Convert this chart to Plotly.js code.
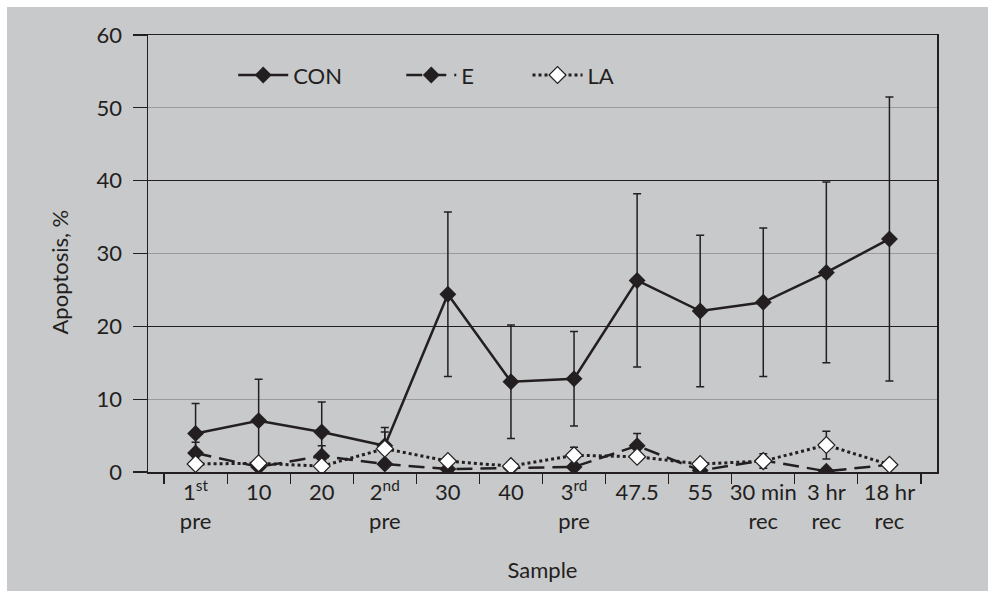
<!DOCTYPE html>
<html>
<head>
<meta charset="utf-8">
<script src="https://cdn.plot.ly/plotly-3.0.1.min.js"></script>
<style>
  html, body { margin: 0; padding: 0; background: #ffffff; }
  #chart { position: absolute; left: 7px; top: 7px; width: 981px; height: 584px; }
</style>
</head>
<body>
<div id="chart"></div>
<script>
const categories = ['1<sup>st</sup><br>pre', '10', '20', '2<sup>nd</sup><br>pre', '30', '40',
  '3<sup>rd</sup><br>pre', '47.5', '55', '30 min<br>rec', '3 hr<br>rec', '18 hr<br>rec'];
const conValues = [5.3, 7.05, 5.5, 3.6, 24.4, 12.4, 12.8, 26.3, 22.1, 23.3, 27.4, 32.0];
const conErr    = [4.1, 5.7, 4.1, 2.5, 11.3, 7.8, 6.5, 11.9, 10.4, 10.2, 12.4, 19.5];
const eValues   = [2.6, 0.7, 2.2, 1.1, 0.4, 0.6, 0.7, 3.6, 0.2, 1.6, 0.1, 1.0];
const eErr      = [1.5, 0, 1.4, 0, 0, 0, 0, 1.7, 0, 0, 0, 0];
const laValues  = [1.1, 1.2, 0.8, 3.2, 1.5, 0.8, 2.3, 2.1, 1.1, 1.5, 3.7, 1.0];
const laErr     = [0, 0, 0, 2.3, 0, 0, 1.1, 0, 0, 1.0, 1.9, 0];
const seriesNames = ['CON', 'E', 'LA'];
const xTitle = 'Sample';
const yTitle = 'Apoptosis, %';

const ink = '#231f20';
const fontFam = 'Lato, "Open Sans", sans-serif';
const fs = 22;

function errBar(arr) {
  return { type: 'data', array: arr, visible: true, color: ink, thickness: 1.5, width: 4 };
}

const traces = [
  {
    x: categories, y: conValues, name: seriesNames[0], type: 'scatter', mode: 'lines+markers',
    line: { color: ink, width: 2.5 },
    marker: { symbol: 'diamond', size: 13, color: ink },
    error_y: errBar(conErr), legend: 'legend'
  },
  {
    x: categories, y: eValues, name: seriesNames[1], type: 'scatter', mode: 'lines+markers',
    line: { color: ink, width: 2.5, dash: '16px,8px' },
    marker: { symbol: 'diamond', size: 13, color: ink },
    error_y: errBar(eErr), legend: 'legend2'
  },
  {
    x: categories, y: laValues, name: seriesNames[2], type: 'scatter', mode: 'lines+markers',
    line: { color: ink, width: 3, dash: 'dot' },
    marker: { symbol: 'diamond', size: 13, color: '#ffffff', line: { color: ink, width: 1.2 } },
    error_y: errBar(laErr), legend: 'legend3'
  },
  {
    x: [], y: [], yaxis: 'y2', showlegend: false, hoverinfo: 'skip', type: 'scatter'
  }
];

function legendAt(x) {
  return {
    orientation: 'h', x: x, xanchor: 'left', y: 0.908, yanchor: 'middle',
    bgcolor: 'rgba(0,0,0,0)', borderwidth: 0, itemwidth: 50,
    font: { family: fontFam, size: fs, color: ink }
  };
}

const layout = {
  width: 981, height: 584,
  paper_bgcolor: '#c8c9cb', plot_bgcolor: '#c8c9cb',
  margin: { l: 141, r: 51, t: 28, b: 119 },
  font: { family: fontFam, size: fs, color: ink },
  showlegend: true,
  legend: legendAt(0.108),
  legend2: legendAt(0.321),
  legend3: legendAt(0.481),
  xaxis: {
    type: 'category', tickson: 'boundaries', ticks: 'outside', ticklen: 10, tickcolor: ink, tickwidth: 1.2,
    tickangle: 0,
    showline: true, mirror: true, linecolor: ink, linewidth: 1.5,
    showgrid: false, tickfont: { family: fontFam, size: fs, color: ink },
    title: { text: xTitle, standoff: 30, font: { family: fontFam, size: fs, color: ink } },
    fixedrange: true
  },
  yaxis: {
    range: [0, 60], dtick: 10, tick0: 0, ticks: 'outside', ticklen: 14, tickcolor: ink, tickwidth: 1.2,
    ticklabelstandoff: 6,
    showline: true, mirror: true, linecolor: ink, linewidth: 1.5,
    showgrid: true, gridcolor: '#9b9b9d', gridwidth: 1.2, zeroline: false,
    tickfont: { family: fontFam, size: fs, color: ink },
    fixedrange: true
  },
  yaxis2: {
    overlaying: 'y', anchor: 'x', range: [0, 60], dtick: 20, tick0: 0,
    showgrid: true, gridcolor: ink, gridwidth: 1.2, zeroline: false,
    showticklabels: false, ticks: '', showline: false, fixedrange: true
  },
  annotations: [
    {
      text: yTitle, xref: 'paper', yref: 'paper', x: -0.112, y: 0.458,
      xanchor: 'center', yanchor: 'middle', textangle: -90, showarrow: false,
      font: { family: fontFam, size: fs, color: ink }
    }
  ]
};

Plotly.newPlot('chart', traces, layout, { displayModeBar: false, staticPlot: true });
</script>
</body>
</html>
